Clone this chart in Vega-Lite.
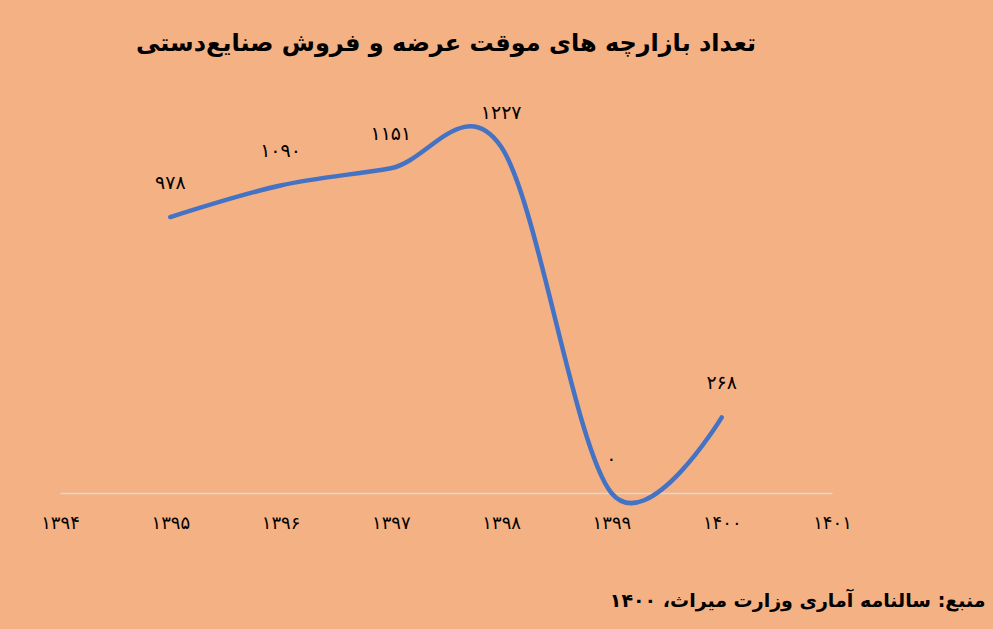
{
  "$schema": "https://vega.github.io/schema/vega-lite/v6.json",
  "width": 772,
  "height": 395,
  "autosize": {"type": "none"},
  "padding": {"left": 60, "top": 98, "right": 161, "bottom": 136},
  "background": "#F4B183",
  "config": {"view": {"stroke": null}, "font": "DejaVu Sans"},
  "title": {
    "text": "تعداد بازارچه های موقت عرضه و فروش صنایع‌دستی",
    "fontSize": 24,
    "fontWeight": "bold",
    "font": "DejaVu Sans",
    "color": "#000000",
    "anchor": "middle",
    "offset": 42
  },
  "data": {
    "values": [
      {"year": 1395, "value": 978, "label": "۹۷۸"},
      {"year": 1396, "value": 1090, "label": "۱۰۹۰"},
      {"year": 1397, "value": 1151, "label": "۱۱۵۱"},
      {"year": 1398, "value": 1227, "label": "۱۲۲۷"},
      {"year": 1399, "value": 0, "label": "۰"},
      {"year": 1400, "value": 268, "label": "۲۶۸"}
    ]
  },
  "encoding": {
    "x": {
      "field": "year",
      "type": "quantitative",
      "scale": {"domain": [1394, 1401], "nice": false, "zero": false},
      "axis": {
        "values": [1394, 1395, 1396, 1397, 1398, 1399, 1400, 1401],
        "format": "d",
        "labelExpr": "replace(replace(replace(replace(replace(replace(replace(replace(replace(datum.label,regexp('0','g'),'۰'),regexp('1','g'),'۱'),regexp('3','g'),'۳'),regexp('4','g'),'۴'),regexp('5','g'),'۵'),regexp('6','g'),'۶'),regexp('7','g'),'۷'),regexp('8','g'),'۸'),regexp('9','g'),'۹')",
        "ticks": false,
        "grid": false,
        "domainColor": "#D9D9D9",
        "domainWidth": 1.5,
        "labelFontSize": 18,
        "labelColor": "#000000",
        "labelPadding": 21,
        "labelBaseline": "top",
        "labelFlush": false,
        "labelOverlap": false,
        "title": "منبع: سالنامه آماری وزارت میراث، ۱۴۰۰",
        "titleFontSize": 19,
        "titleFontWeight": "bold",
        "titleColor": "#000000",
        "titleX": 925,
        "titleY": 107,
        "titleAlign": "right",
        "titleBaseline": "middle",
        "titleAnchor": null
      }
    },
    "y": {
      "field": "value",
      "type": "quantitative",
      "scale": {"domain": [0, 1400], "nice": false},
      "axis": null
    }
  },
  "layer": [
    {
      "mark": {"type": "line", "interpolate": "cardinal", "color": "#4472C4", "strokeWidth": 4.5, "strokeCap": "round", "clip": false}
    },
    {
      "mark": {"type": "text", "dy": -34, "fontSize": 19, "color": "#000000"},
      "encoding": {"text": {"field": "label"}}
    }
  ]
}
